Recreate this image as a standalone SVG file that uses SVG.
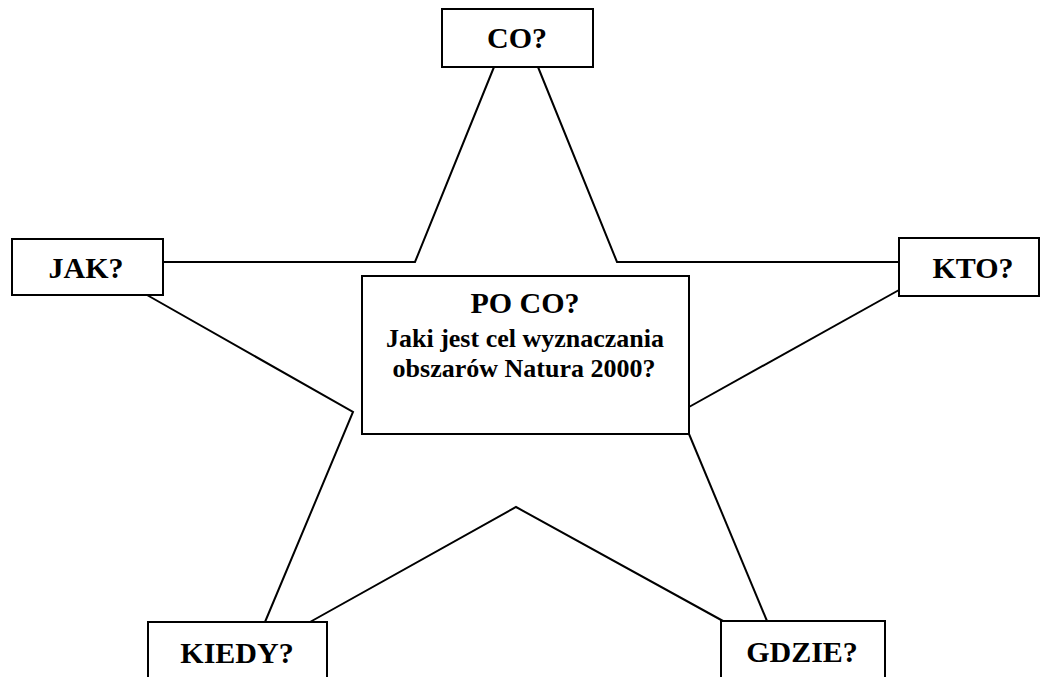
<svg xmlns="http://www.w3.org/2000/svg" width="1041" height="677" viewBox="0 0 1041 677">
<style>
.box{fill:#fff;stroke:#000;stroke-width:2}
.t{font-family:"Liberation Serif","Times New Roman",serif;font-weight:bold;font-size:30px;fill:#000;text-anchor:middle}
.s{font-size:26px}
.c{fill:none;stroke:#000;stroke-width:2;stroke-linejoin:miter}
</style>
<rect width="1041" height="677" fill="#fff"/>
<g id="connectors">
<polyline class="c" points="494,67 415,262 163,262"/>
<polyline class="c" points="538,67 617,262 899,262"/>
<polyline class="c" points="147,295 353,412 265,622"/>
<polyline class="c" points="310,622 516,507 723,621"/>
<line class="c" x1="899" y1="290" x2="689" y2="407"/>
<line class="c" x1="689" y1="434" x2="767" y2="621"/>
</g>
<g id="co">
<rect class="box" x="442" y="9" width="151" height="58"/>
<text class="t" x="517" y="48">CO?</text>
</g>
<g id="jak">
<rect class="box" x="12" y="239" width="151" height="56"/>
<text class="t" x="86" y="278">JAK?</text>
</g>
<g id="kto">
<rect class="box" x="899" y="238" width="140" height="58"/>
<text class="t" x="973" y="278">KTO?</text>
</g>
<g id="center">
<rect class="box" x="362" y="276" width="327" height="158"/>
<text class="t" x="525" y="313">PO CO?</text>
<text class="t s" x="525" y="347">Jaki jest cel wyznaczania</text>
<text class="t s" x="524" y="377">obszarów Natura 2000?</text>
</g>
<g id="kiedy">
<rect class="box" x="148" y="622" width="179" height="70"/>
<text class="t" x="237" y="663">KIEDY?</text>
</g>
<g id="gdzie">
<rect class="box" x="721" y="621" width="164" height="70"/>
<text class="t" x="802" y="662">GDZIE?</text>
</g>
</svg>
